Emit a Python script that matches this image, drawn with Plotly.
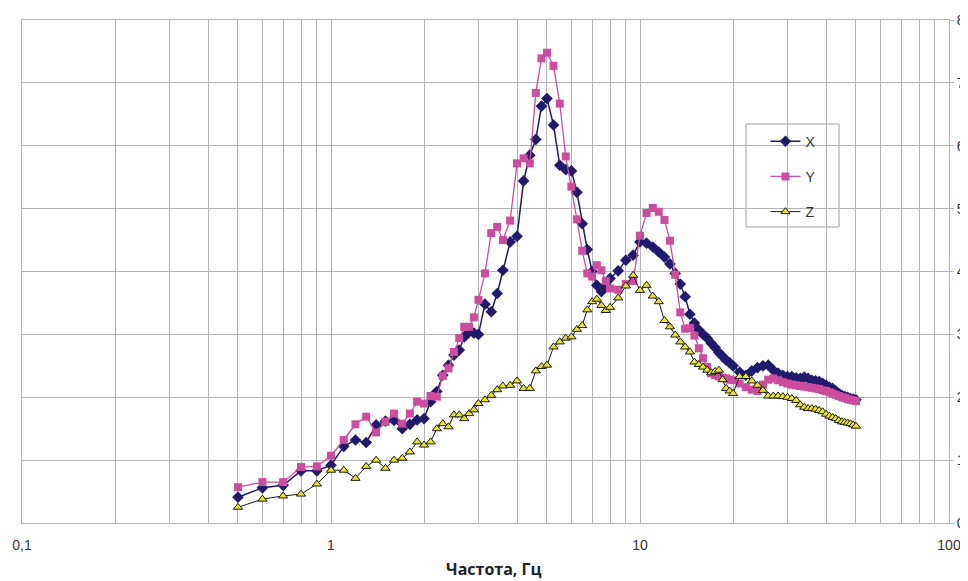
import plotly.graph_objects as go

freq = [0.5, 0.6, 0.7, 0.8, 0.9, 1.0, 1.1, 1.2, 1.3, 1.4, 1.5, 1.6, 1.7, 1.8, 1.9, 2.0,
        2.1, 2.2, 2.3, 2.4, 2.5, 2.6, 2.7, 2.8, 2.9, 3.0,
        3.15, 3.3, 3.45, 3.6, 3.8, 4.0, 4.2, 4.4, 4.6, 4.8, 5.0,
        5.25, 5.5, 5.75, 6.0, 6.25, 6.5, 6.75, 7.0, 7.25, 7.5, 7.75, 8.0,
        8.5, 9.0, 9.5, 10.0, 10.5, 11.0, 11.5, 12.0, 12.5, 13.0, 13.5, 14.0,
        14.5, 15.0, 15.5, 16.0, 16.5, 17.0, 17.5, 18.0, 18.5, 19.0, 19.5, 20.0,
        21, 22, 23, 24, 25, 26, 27, 28, 29, 30, 31, 32, 33, 34, 35, 36, 37, 38, 39, 40,
        41, 42, 43, 44, 45, 46, 47, 48, 49, 50]

x_vals = [0.41, 0.56, 0.60, 0.83, 0.83, 0.92, 1.22, 1.32, 1.28, 1.56, 1.62, 1.63, 1.50, 1.57, 1.64, 1.66,
          1.93, 2.09, 2.35, 2.51, 2.67, 2.75, 2.96, 3.04, 3.02, 3.00,
          3.48, 3.36, 3.65, 4.02, 4.47, 4.56, 5.44, 5.85, 6.10, 6.63, 6.75,
          6.33, 5.69, 5.62, 5.60, 5.26, 4.76, 4.35, 4.00, 3.78, 3.68, 3.78, 3.89,
          4.01, 4.18, 4.26, 4.47, 4.45, 4.39, 4.31, 4.23, 4.12, 3.97, 3.80, 3.60,
          3.32, 3.18, 3.07, 3.00, 2.94, 2.86, 2.79, 2.71, 2.65, 2.59, 2.55, 2.50,
          2.40, 2.35, 2.42, 2.47, 2.50, 2.51, 2.43, 2.38, 2.35, 2.33, 2.33, 2.31, 2.30, 2.32, 2.30,
          2.27, 2.26, 2.25, 2.22, 2.19,
          2.16, 2.14, 2.10, 2.06, 2.03, 2.01, 2.00, 1.98, 1.97, 1.96]

y_vals = [0.57, 0.65, 0.65, 0.89, 0.90, 1.07, 1.32, 1.57, 1.69, 1.44, 1.61, 1.74, 1.58, 1.74, 1.93, 1.90,
          2.02, 2.01, 2.34, 2.46, 2.72, 2.94, 3.12, 3.12, 3.27, 3.55,
          3.97, 4.61, 4.71, 4.50, 4.81, 5.72, 5.80, 5.72, 6.84, 7.39, 7.48,
          7.27, 6.67, 5.83, 5.35, 4.83, 4.33, 3.97, 3.92, 4.10, 4.02, 3.85, 3.73,
          3.71, 3.80, 3.85, 4.57, 4.93, 5.01, 4.95, 4.82, 4.49, 3.95, 3.35, 3.09,
          3.10, 2.98, 2.78, 2.62, 2.48, 2.38, 2.35, 2.33, 2.31, 2.30, 2.28, 2.27,
          2.22, 2.16, 2.12, 2.10, 2.20, 2.28, 2.30, 2.27, 2.24, 2.22, 2.20, 2.19, 2.18, 2.17, 2.16,
          2.15, 2.14, 2.13, 2.11, 2.10,
          2.08, 2.06, 2.04, 2.02, 2.00, 1.99, 1.97, 1.96, 1.95, 1.94]

z_vals = [0.25, 0.38, 0.43, 0.46, 0.62, 0.84, 0.84, 0.71, 0.90, 1.00, 0.87, 1.00, 1.03, 1.13, 1.29, 1.24,
          1.29, 1.50, 1.58, 1.53, 1.72, 1.72, 1.66, 1.74, 1.80, 1.90,
          1.96, 2.03, 2.12, 2.18, 2.19, 2.26, 2.14, 2.14, 2.42, 2.49, 2.51,
          2.80, 2.88, 2.94, 2.96, 3.08, 3.14, 3.39, 3.52, 3.56, 3.46, 3.38, 3.43,
          3.58, 3.77, 3.94, 3.70, 3.78, 3.61, 3.52, 3.22, 3.12, 2.99, 2.88, 2.80,
          2.72, 2.56, 2.52, 2.48, 2.43, 2.39, 2.41, 2.43, 2.28, 2.14, 2.10, 2.06,
          2.33, 2.33, 2.26, 2.19, 2.11, 2.02, 2.02, 2.02, 2.01, 2.00, 1.98, 1.95, 1.88, 1.84, 1.82,
          1.82, 1.81, 1.79, 1.77, 1.73,
          1.70, 1.68, 1.66, 1.63, 1.61, 1.60, 1.59, 1.58, 1.56, 1.54]

x_tick_vals = [0.1, 1, 10, 100]
x_tick_text = ["0,1", "1", "10", "100"]
y_tick_vals = [0, 1, 2, 3, 4, 5, 6, 7, 8]
x_title = "Частота, Гц"

# all 1..9 multiples per decade for log grid lines
grid_vals = [m * d for d in (0.1, 1, 10) for m in range(1, 10)] + [100]
grid_text = [x_tick_text[x_tick_vals.index(v)] if v in x_tick_vals else "" for v in grid_vals]

fig = go.Figure()
fig.add_trace(go.Scatter(
    x=freq, y=x_vals, name="X", mode="lines+markers", legendgroup="X",
    line=dict(color="#1f1a6b", width=1.5),
    marker=dict(symbol="diamond", size=9, color="#1f1a6b")))
fig.add_trace(go.Scatter(
    x=freq, y=y_vals, name="Y", mode="lines+markers", legendgroup="Y",
    line=dict(color="#cc4c9e", width=1.3),
    marker=dict(symbol="square", size=8, color="#cc4c9e")))
fig.add_trace(go.Scatter(
    x=freq, y=z_vals, name="Z", mode="lines+markers", legendgroup="Z",
    line=dict(color="#1a1a1a", width=1),
    marker=dict(symbol="triangle-up", size=8, color="#e8e620",
                line=dict(color="#1a1a1a", width=1))))

grid_color = "#b4b4b4"
fig.update_layout(
    width=968, height=581,
    margin=dict(l=14, r=27, t=12, b=66, autoexpand=False),
    paper_bgcolor="white", plot_bgcolor="white",
    font=dict(family="Liberation Sans, Arial, sans-serif", size=14, color="#333333"),
    xaxis=dict(type="log", range=[-1, 2], tickvals=grid_vals, ticktext=grid_text,
               showgrid=True, gridcolor=grid_color, gridwidth=1,
               showline=True, linecolor=grid_color, mirror=True, automargin=False,
               ticks="", ticklabelstandoff=9, zeroline=False,
               tickfont=dict(size=14, color="#333333")),
    yaxis=dict(range=[0, 8], tickvals=y_tick_vals, side="right",
               showgrid=True, gridcolor=grid_color, gridwidth=1,
               showline=True, linecolor=grid_color, mirror=True, automargin=False,
               ticks="outside", ticklen=4, tickcolor=grid_color, zeroline=False,
               tickfont=dict(size=14, color="#333333")),
    showlegend=True,
    legend=dict(x=0.802, y=0.79, xanchor="left", yanchor="top",
                bgcolor="rgba(0,0,0,0)", borderwidth=0,
                tracegroupgap=14, font=dict(size=14, color="#333333")),
    shapes=[dict(type="rect", xref="paper", yref="paper",
                 x0=(746 - 22) / 927, x1=(839 - 22) / 927,
                 y0=(523 - 227) / 503, y1=(523 - 124) / 503,
                 line=dict(color="#a0a0a0", width=1), fillcolor="white", layer="below")],
    annotations=[dict(text="<b>" + x_title + "</b>", xref="paper", yref="paper",
                      x=0.509, y=-0.092, xanchor="center", yanchor="middle",
                      showarrow=False,
                      font=dict(family="Open Sans, Noto Sans, sans-serif", size=16, color="#222222"))],
)

fig.write_html("out.html")
